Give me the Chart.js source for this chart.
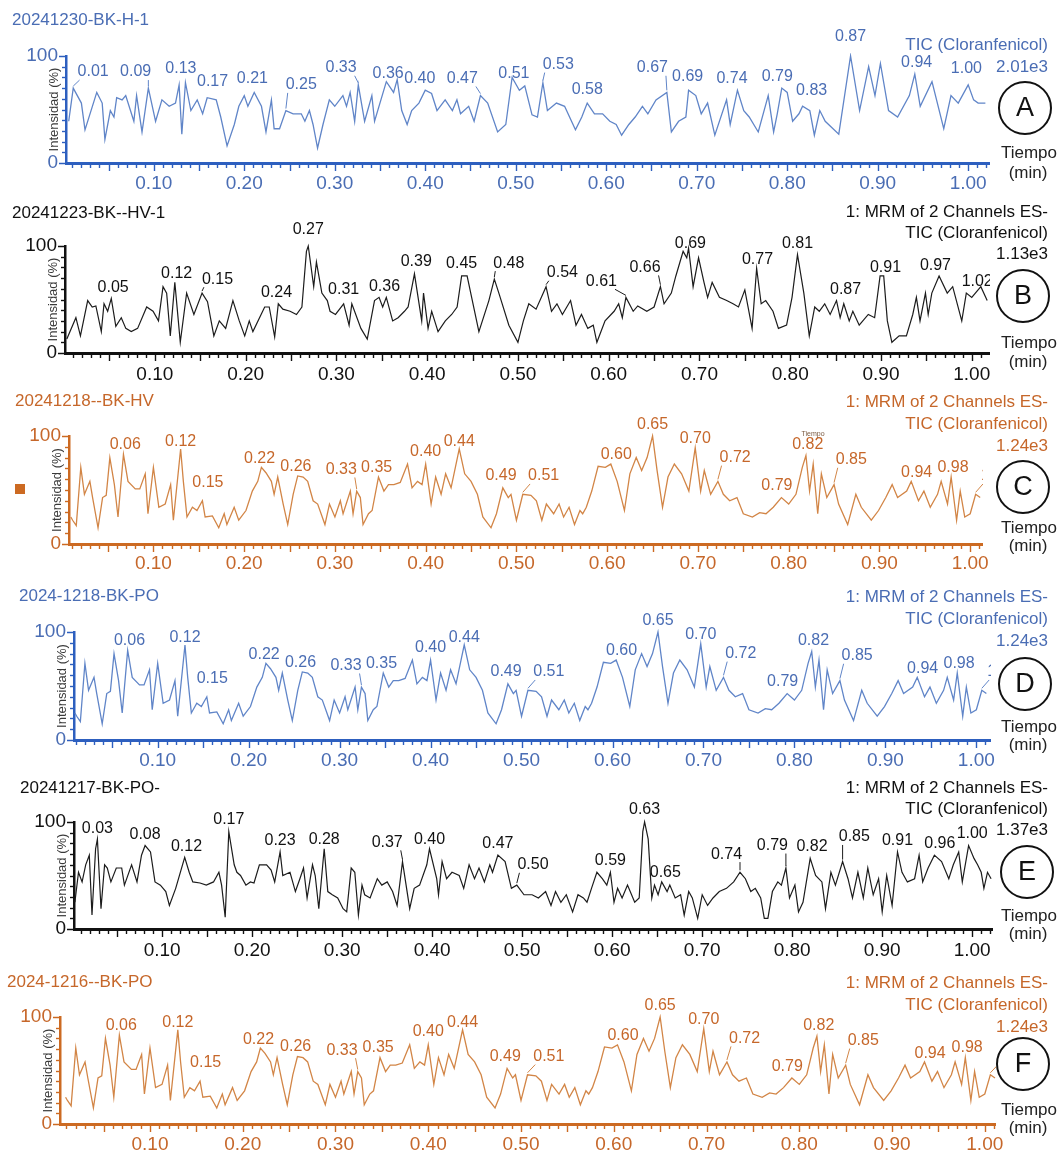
<!DOCTYPE html>
<html><head><meta charset="utf-8">
<script src="https://cdn.jsdelivr.net/npm/chart.js@4.4.1/dist/chart.umd.min.js"></script>
<style>
body{margin:0;background:#fff;width:1062px;height:1153px;position:relative;overflow:hidden}
canvas{position:absolute;left:0;top:0}
</style></head><body>
<canvas id="cA" width="1062" height="1153"></canvas>
<canvas id="cB" width="1062" height="1153"></canvas>
<canvas id="cC" width="1062" height="1153"></canvas>
<canvas id="cD" width="1062" height="1153"></canvas>
<canvas id="cE" width="1062" height="1153"></canvas>
<canvas id="cF" width="1062" height="1153"></canvas>
<script>
// ---------- DATA (time in min, intensity in %) ----------
const xTickValues = [0.10,0.20,0.30,0.40,0.50,0.60,0.70,0.80,0.90,1.00];
const yTickValues = [0,100];

const seriesA = [[0.006,39],[0.011,70],[0.020,56],[0.024,31],[0.037,66],[0.043,56],[0.046,22],[0.052,49],[0.056,43],[0.059,61],[0.065,59],[0.069,63],[0.078,39],[0.081,63],[0.087,29],[0.094,70],[0.102,39],[0.109,59],[0.117,53],[0.124,56],[0.128,73],[0.131,27],[0.135,75],[0.141,49],[0.148,59],[0.154,46],[0.159,61],[0.169,59],[0.174,43],[0.181,16],[0.189,36],[0.194,53],[0.200,63],[0.204,53],[0.211,66],[0.219,53],[0.224,29],[0.230,59],[0.233,32],[0.239,32],[0.246,49],[0.254,46],[0.263,46],[0.267,39],[0.272,49],[0.276,36],[0.281,14],[0.287,36],[0.294,59],[0.300,53],[0.309,63],[0.313,53],[0.317,66],[0.322,39],[0.326,73],[0.333,39],[0.341,63],[0.344,39],[0.357,76],[0.365,66],[0.369,78],[0.374,49],[0.380,36],[0.385,49],[0.393,56],[0.400,68],[0.407,65],[0.413,49],[0.422,59],[0.430,49],[0.435,59],[0.439,46],[0.448,53],[0.454,39],[0.461,63],[0.469,56],[0.480,29],[0.489,36],[0.496,80],[0.504,68],[0.510,72],[0.518,45],[0.524,43],[0.530,75],[0.535,49],[0.545,56],[0.554,53],[0.566,31],[0.573,43],[0.579,56],[0.587,46],[0.596,46],[0.604,39],[0.611,36],[0.617,26],[0.625,36],[0.632,43],[0.640,53],[0.646,46],[0.655,59],[0.667,66],[0.672,29],[0.680,39],[0.688,43],[0.691,68],[0.699,63],[0.705,46],[0.712,56],[0.720,26],[0.733,59],[0.737,36],[0.745,68],[0.752,49],[0.758,43],[0.768,29],[0.779,63],[0.785,29],[0.789,46],[0.794,70],[0.800,66],[0.806,39],[0.813,46],[0.817,53],[0.825,49],[0.830,26],[0.836,49],[0.842,39],[0.857,27],[0.870,100],[0.880,49],[0.890,90],[0.897,63],[0.903,93],[0.912,49],[0.922,43],[0.935,63],[0.941,83],[0.947,53],[0.960,76],[0.973,32],[0.981,63],[0.989,56],[1.000,73],[1.006,59],[1.011,56],[1.019,56]];

const seriesB = [[0.003,13],[0.013,33],[0.018,16],[0.026,49],[0.031,43],[0.035,44],[0.041,20],[0.044,46],[0.048,39],[0.052,51],[0.057,25],[0.063,33],[0.068,23],[0.074,20],[0.081,23],[0.091,43],[0.098,39],[0.104,30],[0.109,62],[0.113,56],[0.117,16],[0.122,66],[0.128,10],[0.135,56],[0.143,36],[0.152,56],[0.158,48],[0.165,16],[0.171,30],[0.178,23],[0.186,49],[0.193,30],[0.199,16],[0.204,30],[0.208,20],[0.221,43],[0.226,43],[0.232,15],[0.236,46],[0.241,41],[0.249,39],[0.256,36],[0.262,43],[0.267,95],[0.269,100],[0.275,62],[0.278,85],[0.284,56],[0.290,49],[0.293,39],[0.299,36],[0.308,46],[0.314,26],[0.317,46],[0.327,23],[0.334,13],[0.342,49],[0.347,52],[0.351,43],[0.355,52],[0.362,30],[0.368,33],[0.375,39],[0.379,43],[0.386,74],[0.394,30],[0.396,56],[0.401,23],[0.405,39],[0.412,20],[0.420,30],[0.427,36],[0.433,43],[0.438,72],[0.444,72],[0.457,20],[0.468,49],[0.474,69],[0.479,56],[0.490,26],[0.500,10],[0.506,30],[0.512,46],[0.520,41],[0.531,62],[0.537,39],[0.543,46],[0.549,36],[0.558,49],[0.564,26],[0.570,36],[0.577,23],[0.583,26],[0.587,10],[0.596,30],[0.606,39],[0.611,46],[0.615,33],[0.619,52],[0.627,39],[0.632,44],[0.642,39],[0.650,43],[0.657,62],[0.661,46],[0.669,56],[0.674,72],[0.682,95],[0.686,89],[0.688,98],[0.693,62],[0.699,89],[0.705,66],[0.709,52],[0.714,66],[0.722,52],[0.730,49],[0.737,46],[0.743,43],[0.750,59],[0.758,23],[0.763,79],[0.768,46],[0.773,49],[0.781,39],[0.787,23],[0.796,26],[0.802,52],[0.808,92],[0.815,56],[0.821,16],[0.827,43],[0.832,39],[0.838,46],[0.844,36],[0.851,49],[0.855,33],[0.859,46],[0.865,30],[0.869,39],[0.876,26],[0.886,36],[0.893,33],[0.899,72],[0.903,72],[0.907,30],[0.912,10],[0.920,16],[0.928,16],[0.935,36],[0.939,52],[0.943,30],[0.949,56],[0.952,36],[0.956,56],[0.964,72],[0.973,56],[0.979,62],[0.989,30],[0.994,56],[1.000,52],[1.010,62],[1.017,49]];

// panels C, D and F show the same trace
const seriesC = [[0.009,25],[0.011,22],[0.015,17],[0.020,71],[0.024,46],[0.030,58],[0.033,43],[0.039,15],[0.044,43],[0.048,45],[0.052,80],[0.057,55],[0.061,25],[0.067,83],[0.072,58],[0.080,51],[0.085,51],[0.091,65],[0.094,28],[0.100,71],[0.106,34],[0.113,37],[0.119,55],[0.122,22],[0.130,88],[0.133,58],[0.137,25],[0.143,34],[0.148,31],[0.154,40],[0.157,25],[0.165,26],[0.172,15],[0.178,28],[0.181,18],[0.189,34],[0.194,22],[0.202,31],[0.209,49],[0.215,58],[0.219,71],[0.224,66],[0.230,58],[0.233,46],[0.237,62],[0.243,37],[0.248,18],[0.254,46],[0.259,63],[0.265,62],[0.270,58],[0.276,40],[0.281,37],[0.289,18],[0.294,37],[0.300,25],[0.306,40],[0.309,28],[0.317,49],[0.320,28],[0.324,49],[0.328,43],[0.331,18],[0.337,28],[0.341,31],[0.348,62],[0.354,49],[0.359,55],[0.365,55],[0.372,57],[0.380,74],[0.385,52],[0.391,58],[0.396,55],[0.400,74],[0.406,37],[0.411,62],[0.417,46],[0.422,65],[0.428,52],[0.437,88],[0.443,65],[0.450,58],[0.457,46],[0.463,25],[0.472,15],[0.478,28],[0.485,52],[0.491,43],[0.494,46],[0.500,22],[0.507,46],[0.516,45],[0.522,40],[0.528,22],[0.533,37],[0.541,28],[0.547,37],[0.552,25],[0.558,34],[0.564,18],[0.570,31],[0.573,28],[0.577,34],[0.583,49],[0.590,72],[0.598,71],[0.604,74],[0.611,58],[0.619,31],[0.625,65],[0.632,80],[0.638,68],[0.644,80],[0.650,100],[0.655,68],[0.661,34],[0.667,62],[0.674,74],[0.682,65],[0.690,49],[0.697,89],[0.703,49],[0.707,68],[0.714,46],[0.722,58],[0.728,46],[0.735,40],[0.743,43],[0.750,28],[0.760,25],[0.768,29],[0.775,28],[0.783,34],[0.792,43],[0.800,37],[0.808,46],[0.815,71],[0.819,82],[0.823,49],[0.827,74],[0.832,28],[0.836,65],[0.842,43],[0.850,55],[0.855,37],[0.865,18],[0.874,46],[0.880,34],[0.891,22],[0.899,31],[0.907,43],[0.914,55],[0.920,43],[0.930,49],[0.935,58],[0.943,40],[0.949,49],[0.956,34],[0.964,46],[0.968,58],[0.975,37],[0.979,62],[0.985,22],[0.989,49],[0.994,25],[1.000,28],[1.006,46],[1.011,43]];

const seriesE = [[0.003,25],[0.007,53],[0.011,44],[0.015,60],[0.019,69],[0.022,13],[0.026,75],[0.028,84],[0.032,19],[0.036,60],[0.039,57],[0.043,44],[0.049,57],[0.055,57],[0.058,41],[0.066,60],[0.072,44],[0.077,69],[0.081,78],[0.087,72],[0.092,44],[0.098,41],[0.104,35],[0.108,22],[0.115,38],[0.125,67],[0.130,53],[0.134,44],[0.142,43],[0.149,41],[0.157,44],[0.163,53],[0.166,41],[0.170,11],[0.174,91],[0.180,60],[0.183,53],[0.187,50],[0.193,41],[0.198,44],[0.202,43],[0.208,60],[0.216,60],[0.221,55],[0.225,44],[0.231,72],[0.234,50],[0.242,53],[0.248,35],[0.253,47],[0.257,57],[0.261,29],[0.267,60],[0.270,50],[0.274,19],[0.280,75],[0.284,35],[0.289,32],[0.295,29],[0.301,19],[0.305,16],[0.310,57],[0.314,53],[0.318,13],[0.322,41],[0.325,32],[0.331,29],[0.339,47],[0.344,41],[0.350,44],[0.356,35],[0.361,22],[0.367,63],[0.375,19],[0.380,38],[0.386,41],[0.394,60],[0.397,75],[0.405,47],[0.407,32],[0.411,63],[0.416,47],[0.422,53],[0.430,50],[0.435,38],[0.441,60],[0.447,47],[0.452,57],[0.458,44],[0.464,60],[0.467,53],[0.473,69],[0.481,63],[0.488,38],[0.494,41],[0.502,32],[0.511,32],[0.518,29],[0.526,35],[0.532,22],[0.537,35],[0.543,25],[0.549,32],[0.556,16],[0.562,32],[0.568,29],[0.572,25],[0.577,38],[0.583,53],[0.589,47],[0.594,41],[0.598,53],[0.602,25],[0.606,38],[0.611,29],[0.617,41],[0.625,25],[0.630,29],[0.634,91],[0.636,100],[0.640,84],[0.644,29],[0.647,41],[0.651,32],[0.655,44],[0.661,35],[0.664,41],[0.670,29],[0.676,32],[0.680,13],[0.685,35],[0.689,29],[0.695,10],[0.700,32],[0.706,22],[0.712,29],[0.719,35],[0.727,38],[0.735,44],[0.742,53],[0.748,47],[0.754,35],[0.759,38],[0.765,29],[0.769,10],[0.773,10],[0.778,35],[0.784,44],[0.788,41],[0.793,57],[0.797,29],[0.803,41],[0.807,16],[0.812,25],[0.820,66],[0.826,50],[0.833,44],[0.837,19],[0.843,53],[0.848,41],[0.856,63],[0.862,47],[0.867,29],[0.873,53],[0.879,29],[0.884,57],[0.890,32],[0.896,47],[0.900,16],[0.905,50],[0.911,22],[0.917,72],[0.922,53],[0.928,44],[0.936,47],[0.941,69],[0.945,44],[0.951,57],[0.958,69],[0.966,63],[0.974,47],[0.979,60],[0.985,72],[0.989,44],[0.996,78],[1.002,66],[1.006,60],[1.010,53],[1.013,38],[1.017,53],[1.021,47]];

// peak labels: text, label centre (time, %), leader line flag
const peakLabelsA = ['0.01','0.09','0.13','0.17','0.21','0.25','0.33','0.36','0.40','0.47','0.51','0.53','0.58','0.67','0.69','0.74','0.79','0.83','0.87','0.94','1.00'];
const labelTA = [0.033,0.080,0.130,0.165,0.209,0.263,0.307,0.359,0.394,0.441,0.498,0.547,0.579,0.651,0.690,0.739,0.789,0.827,0.870,0.943,0.998];
const labelVA = [85,85,88,76,79,73,89,84,79,79,84,92,69,89,81,79,81,68,118,94,88];
const leaderA = [1,1,0,0,0,1,1,0,0,1,0,1,0,1,0,0,0,0,0,0,0];

const peakLabelsB = ['0.05','0.12','0.15','0.24','0.27','0.31','0.36','0.39','0.45','0.48','0.54','0.61','0.66','0.69','0.77','0.81','0.87','0.91','0.97','1.02'];
const labelTB = [0.054,0.124,0.169,0.234,0.269,0.308,0.353,0.388,0.438,0.490,0.549,0.592,0.640,0.690,0.764,0.808,0.861,0.905,0.960,1.006];
const labelVB = [61,74,69,56,115,59,62,85,84,84,75,67,80,102,87,102,59,80,82,67];
const leaderB = [0,0,1,0,0,0,0,0,0,1,1,1,1,0,0,0,0,0,0,0];

const peakLabelsC = ['0.06','0.12','0.15','0.22','0.26','0.33','0.35','0.40','0.44','0.49','0.51','0.60','0.65','0.70','0.72','0.79','0.82','0.85','0.94','0.98','1.01'];
const labelTC = [0.069,0.130,0.160,0.217,0.257,0.307,0.346,0.400,0.437,0.483,0.530,0.610,0.650,0.697,0.741,0.787,0.821,0.869,0.941,0.981,1.029];
const labelVC = [92,95,57,79,72,69,71,86,95,63,63,83,111,98,80,54,92,78,66,71,63];
const leaderC = [0,0,0,0,0,1,0,0,0,0,1,0,0,0,1,0,0,1,0,0,1];

const peakLabelsE = ['0.03','0.08','0.12','0.17','0.23','0.28','0.37','0.40','0.47','0.50','0.59','0.63','0.65','0.74','0.79','0.82','0.85','0.91','0.96','1.00'];
const labelTE = [0.028,0.081,0.127,0.174,0.231,0.280,0.350,0.397,0.473,0.512,0.598,0.636,0.659,0.727,0.778,0.822,0.869,0.917,0.964,1.000];
const labelVE = [94,88,77,102,83,84,81,84,80,60,64,112,53,70,78,77,86,83,80,89];
const leaderE = [0,0,0,0,0,0,1,0,0,1,0,0,0,1,1,0,1,0,0,0];

// ---------- STYLE / LAYOUT ----------
const FONT = "'Liberation Sans', Arial, Helvetica, sans-serif";
const W = 1062, H = 1153, YW = 40, XH = 40;
const themes = {
  blue:   {text:'#4a6db4', trace:'#6085c8', axis:'#2d5fbf', lw:1.3},
  black:  {text:'#111111', trace:'#1c1c1c', axis:'#111111', lw:1.2},
  orange: {text:'#c6672a', trace:'#d28546', axis:'#cc6a22', lw:1.3}
};
const MRM = '1: MRM of 2 Channels ES-', TIC = 'TIC (Cloranfenicol)';

const panels = [
  {id:'cA', letter:'A', title:'20241230-BK-H-1', theme:'blue', series:seriesA, labels:peakLabelsA, lt:labelTA, lv:labelVA, lead:leaderA,
   header:[TIC,'2.01e3'], L:66, R:989, top:56, bottom:163, xMin:0.003, xMax:1.023, tickOff:20,
   titleXY:[12,20], headerY:[45,67], circle:[1025,108], tiempoY:[153,173]},
  {id:'cB', letter:'B', title:'20241223-BK--HV-1', theme:'black', series:seriesB, labels:peakLabelsB, lt:labelTB, lv:labelVB, lead:leaderB,
   header:[MRM,TIC,'1.13e3'], L:65, R:989, top:246, bottom:353, xMin:0.001, xMax:1.019, tickOff:21,
   titleXY:[12,213], headerY:[212,233,254], circle:[1023,296], tiempoY:[343,362]},
  {id:'cC', letter:'C', title:'20241218--BK-HV', theme:'orange', series:seriesC, labels:peakLabelsC, lt:labelTC, lv:labelVC, lead:leaderC,
   header:[MRM,TIC,'1.24e3'], L:69, R:982, top:436, bottom:544, xMin:0.007, xMax:1.013, tickOff:19,
   titleXY:[15,401], headerY:[402,424,446], circle:[1023,487], tiempoY:[528,546], marker:true, tinyTiempo:true},
  {id:'cD', letter:'D', title:'2024-1218-BK-PO', theme:'blue', series:seriesC, labels:peakLabelsC, lt:labelTC, lv:labelVC, lead:leaderC,
   header:[MRM,TIC,'1.24e3'], L:74, R:990, top:632, bottom:740, xMin:0.008, xMax:1.015, tickOff:20,
   titleXY:[19,596], headerY:[597,619,641], circle:[1025,684], tiempoY:[727,745]},
  {id:'cE', letter:'E', title:'20241217-BK-PO-', theme:'black', series:seriesE, labels:peakLabelsE, lt:labelTE, lv:labelVE, lead:leaderE,
   header:[MRM,TIC,'1.37e3'], L:74, R:992, top:822, bottom:929, xMin:0.002, xMax:1.022, tickOff:21,
   titleXY:[20,788], headerY:[788,809,830], circle:[1027,872], tiempoY:[916,934]},
  {id:'cF', letter:'F', title:'2024-1216--BK-PO', theme:'orange', series:seriesC, labels:peakLabelsC, lt:labelTC, lv:labelVC, lead:leaderC,
   header:[MRM,TIC,'1.24e3'], L:60, R:995, top:1017, bottom:1124, xMin:0.003, xMax:1.011, tickOff:20,
   titleXY:[7,982], headerY:[983,1005,1027], circle:[1023,1064], tiempoY:[1110,1128]}
];

function decor(p, th) {
  return {
    id: 'decor' + p.letter,
    afterDraw(chart) {
      const ctx = chart.ctx, xs = chart.scales.x, ys = chart.scales.y, ca = chart.chartArea;
      ctx.save();
      // minor ticks on x axis
      ctx.strokeStyle = th.axis; ctx.lineWidth = 1.4;
      for (let k = Math.ceil(p.xMin * 100); k <= Math.floor(p.xMax * 100 + 1e-9); k++) {
        const px = Math.round(xs.getPixelForValue(k / 100)) + 0.5;
        const len = (k % 5 === 0) ? 7 : 4;
        ctx.beginPath(); ctx.moveTo(px, ca.bottom + 1); ctx.lineTo(px, ca.bottom + 1 + len); ctx.stroke();
      }
      // minor ticks on y axis
      for (let k = 1; k < 10; k++) {
        const py = Math.round(ys.getPixelForValue(k * 10)) + 0.5;
        ctx.beginPath(); ctx.moveTo(ca.left - 4, py); ctx.lineTo(ca.left, py); ctx.stroke();
      }
      // y axis title
      ctx.save();
      ctx.translate(ca.left - 12, (ca.top + ca.bottom) / 2);
      ctx.rotate(-Math.PI / 2);
      ctx.font = '13px ' + FONT; ctx.fillStyle = '#3a3a3a';
      ctx.textAlign = 'center'; ctx.textBaseline = 'middle';
      ctx.fillText('Intensidad (%)', 0, 0);
      ctx.restore();
      // title
      ctx.font = '17px ' + FONT; ctx.fillStyle = th.text;
      ctx.textAlign = 'left'; ctx.textBaseline = 'middle';
      ctx.fillText(p.title, p.titleXY[0], p.titleXY[1]);
      // header on the right
      ctx.textAlign = 'right';
      p.header.forEach((t, i) => ctx.fillText(t, 1048, p.headerY[i]));
      // peak labels (clipped at the right end of the axis)
      ctx.save();
      ctx.beginPath(); ctx.rect(0, 0, ca.right + 1, H); ctx.clip();
      ctx.font = '16px ' + FONT; ctx.fillStyle = th.text; ctx.textAlign = 'center'; ctx.textBaseline = 'middle';
      p.labels.forEach((txt, i) => {
        const x = xs.getPixelForValue(p.lt[i]), y = ys.getPixelForValue(p.lv[i]);
        ctx.fillText(txt, x, y);
        if (p.lead[i]) {
          const target = parseFloat(txt);
          let best = null;
          p.series.forEach(([t, v]) => { if (Math.abs(t - target) <= 0.012 && (!best || v > best[1])) best = [t, v]; });
          if (best) {
            const px = xs.getPixelForValue(best[0]), py = ys.getPixelForValue(best[1]);
            const w = ctx.measureText(txt).width;
            const sx = Math.max(x - w / 2 + 2, Math.min(x + w / 2 - 2, px));
            ctx.strokeStyle = th.trace; ctx.lineWidth = 1;
            ctx.beginPath(); ctx.moveTo(sx, y + 8); ctx.lineTo(px, py - 2); ctx.stroke();
          }
        }
      });
      ctx.restore();
      // circle with letter
      ctx.beginPath(); ctx.arc(p.circle[0], p.circle[1], 26, 0, Math.PI * 2);
      ctx.fillStyle = '#ffffff'; ctx.fill();
      ctx.lineWidth = 2; ctx.strokeStyle = '#111'; ctx.stroke();
      ctx.fillStyle = '#111'; ctx.font = '27px ' + FONT; ctx.textAlign = 'center'; ctx.textBaseline = 'middle';
      ctx.fillText(p.letter, p.circle[0], p.circle[1] + 1);
      // Tiempo (min)
      ctx.font = '17px ' + FONT; ctx.fillStyle = '#222';
      ctx.fillText('Tiempo', 1029, p.tiempoY[0]);
      ctx.fillText('(min)', 1028, p.tiempoY[1]);
      if (p.marker) { ctx.fillStyle = th.axis; ctx.fillRect(15, 484, 10, 10); }
      if (p.tinyTiempo) { ctx.font = '7px ' + FONT; ctx.fillStyle = '#7a5a40'; ctx.fillText('Tiempo', 813, 434); }
      ctx.restore();
    }
  };
}

panels.forEach(p => {
  const th = themes[p.theme];
  new Chart(document.getElementById(p.id), {
    type: 'line',
    data: { datasets: [{
      data: p.series.map(([t, v]) => ({x: t, y: v})),
      borderColor: th.trace, borderWidth: th.lw, pointRadius: 0, tension: 0, fill: false, clip: 3
    }]},
    options: {
      responsive: false, animation: false, events: [],
      plugins: { legend: {display: false}, tooltip: {enabled: false} },
      layout: { padding: { left: p.L - YW, right: W - p.R, top: p.top, bottom: H - p.bottom - XH } },
      scales: {
        x: {
          type: 'linear', min: p.xMin, max: p.xMax,
          afterBuildTicks: s => { s.ticks = xTickValues.map(v => ({value: v})); },
          afterFit: s => { s.height = XH; },
          ticks: { callback: v => Number(v).toFixed(2), color: th.text, font: {family: FONT, size: 19},
                   padding: p.tickOff - 11, maxRotation: 0, autoSkip: false },
          grid: { display: false, drawTicks: false },
          border: { display: true, color: th.axis, width: 3 }
        },
        y: {
          min: 0, max: 100,
          afterBuildTicks: s => { s.ticks = yTickValues.map(v => ({value: v})); },
          afterFit: s => { s.width = YW; },
          ticks: { color: th.text, font: {family: FONT, size: 19}, padding: 1, callback: v => String(v) },
          grid: { display: true, drawOnChartArea: false, drawTicks: true, tickLength: 7, tickColor: th.axis, tickWidth: 1.5 },
          border: { display: true, color: th.axis, width: 2.5 }
        }
      }
    },
    plugins: [decor(p, th)]
  });
});
</script>
</body></html>
